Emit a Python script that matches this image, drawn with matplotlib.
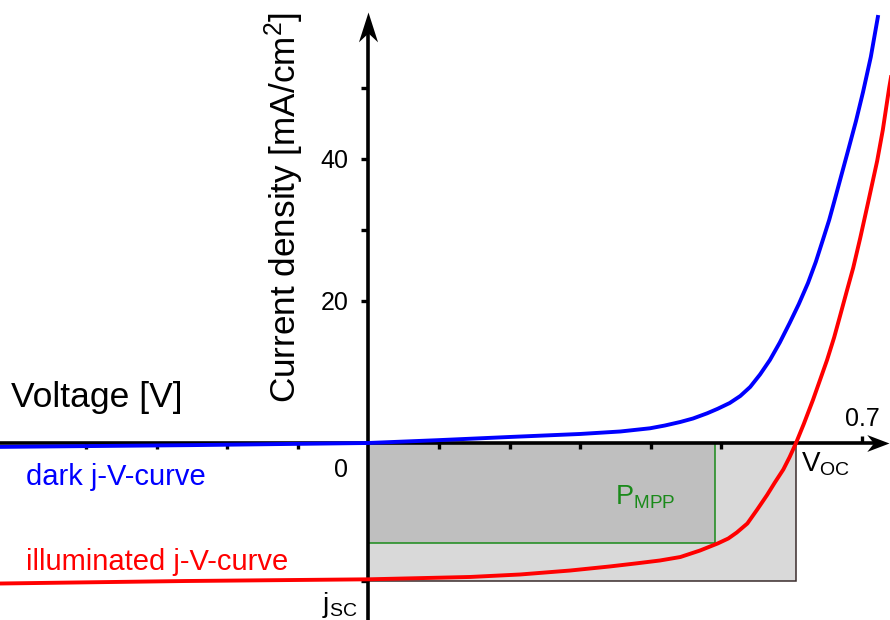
import matplotlib
matplotlib.use("Agg")
import matplotlib.pyplot as plt
from matplotlib.path import Path
from matplotlib.patches import Rectangle

plt.rcParams["font.family"] = ["Liberation Sans", "DejaVu Sans"]
plt.rcParams["mathtext.default"] = "regular"

# Dark j-V curve: voltage [V], current density [mA/cm²]
dark_voltage = [-0.522, -0.25, 0.0, 0.097, 0.201, 0.300, 0.357, 0.399, 0.420,
                0.442, 0.460, 0.480, 0.495, 0.512, 0.527, 0.541, 0.555, 0.569,
                0.583, 0.597, 0.610, 0.623, 0.634, 0.644, 0.653, 0.660, 0.670,
                0.680, 0.691, 0.701, 0.712, 0.722]
dark_current = [-0.55, -0.3, 0.0, 0.39, 0.85, 1.27, 1.62, 2.07, 2.46,
                2.96, 3.45, 4.18, 4.82, 5.63, 6.62, 7.89, 9.65, 11.69,
                14.15, 16.90, 19.58, 22.54, 25.49, 28.59, 31.41, 33.94, 37.61,
                41.27, 45.35, 49.44, 54.37, 60.0]

# Illuminated j-V curve
light_voltage = [-0.522, -0.260, 0.0, 0.144, 0.215, 0.286, 0.342, 0.381, 0.413,
                 0.442, 0.470, 0.495, 0.510, 0.522, 0.537, 0.551, 0.565, 0.576,
                 0.588, 0.597, 0.606, 0.617, 0.630, 0.640, 0.650, 0.660, 0.668,
                 0.678, 0.687, 0.697, 0.708, 0.721, 0.729, 0.738, 0.746]
light_current = [-19.79, -19.44, -19.20, -18.87, -18.52, -17.96, -17.39, -16.94, -16.55,
                 -16.06, -15.14, -14.15, -13.45, -12.61, -11.34, -9.37, -7.32, -5.56,
                 -3.73, -1.97, 0.0, 2.68, 6.06, 8.87, 11.69, 14.86, 17.75,
                 21.41, 24.65, 28.87, 33.80, 39.72, 44.08, 50.0, 54.65]

# Characteristic points
v_oc = 0.606
j_sc = -19.4
v_mpp = 0.491
j_mpp = -14.1

x_ticks = [-0.4, -0.3, -0.2, -0.1, 0.1, 0.2, 0.3, 0.4, 0.5]
x_tick_top = 0.7
y_ticks = [20, 30, 40, 50]
y_tick_labels = ["20", "", "40", ""]

v_min, v_max = -0.5223, 0.7392
j_min, j_max = -24.93, 62.39
v_arrow = 0.7378
j_arrow = 60.7

fig = plt.figure(figsize=(8.9, 6.2), dpi=100)
ax = fig.add_axes([0, 0, 1, 1])
ax.set_xlim(v_min, v_max)
ax.set_ylim(j_min, j_max)

# Axes crossing at the origin
for side in ("top", "right"):
    ax.spines[side].set_visible(False)
ax.spines["left"].set_position(("data", 0))
ax.spines["bottom"].set_position(("data", 0))
ax.spines["left"].set_bounds(j_min, j_arrow - 2.5)
ax.spines["bottom"].set_bounds(v_min, v_arrow - 0.02)
for side in ("left", "bottom"):
    ax.spines[side].set_linewidth(2.6)

ax.set_xticks(x_ticks)
ax.set_xticklabels([])
ax.set_xticks([x_tick_top], minor=True)
ax.tick_params(axis="x", which="major", direction="out", length=4.5, width=2.4)
ax.tick_params(axis="x", which="minor", direction="in", length=5, width=2.4,
               labelbottom=False)
ax.set_yticks(y_ticks + [j_sc])
ax.set_yticklabels(y_tick_labels + [""])
ax.tick_params(axis="y", direction="out", length=5.4, width=2.4,
               labelsize=18, pad=9)

# Arrow heads
up_head = Path([(0, 0), (-0.32, -1), (0, -0.7), (0.32, -1), (0, 0)],
               [Path.MOVETO, Path.LINETO, Path.LINETO, Path.LINETO, Path.CLOSEPOLY])
right_head = Path([(0, 0), (-1, 0.38), (-0.7, 0), (-1, -0.38), (0, 0)],
                  [Path.MOVETO, Path.LINETO, Path.LINETO, Path.LINETO, Path.CLOSEPOLY])
ax.plot([0], [j_arrow], marker=up_head, markersize=43, color="black",
        markeredgewidth=0, zorder=4, clip_on=False)
ax.plot([v_arrow], [0], marker=right_head, markersize=32, color="black",
        markeredgewidth=0, zorder=4, clip_on=False)

# Power rectangles
ax.add_patch(Rectangle((0, j_sc), v_oc, -j_sc, facecolor="#d9d9d9",
                       edgecolor="#3a2c2c", linewidth=1.1, zorder=1))
ax.add_patch(Rectangle((0, j_mpp), v_mpp, -j_mpp, facecolor="#bfbfbf",
                       edgecolor="#1a8a1a", linewidth=1.1, zorder=1.1))

# Curves
ax.plot(dark_voltage, dark_current, color="#0000ff", linewidth=2.8, zorder=3,
        solid_joinstyle="round")
ax.plot(light_voltage, light_current, color="#ff0000", linewidth=2.8, zorder=3,
        solid_joinstyle="round")

# Labels
ax.text(-0.506, 5.07, "Voltage [V]", fontsize=25.5, ha="left", va="baseline")
ax.text(-0.1035, 5.63, "Current density [mA/cm$^2$]", fontsize=25.3,
        rotation=90, rotation_mode="anchor", ha="left", va="baseline")
ax.text(-0.485, -5.92, "dark j-V-curve", fontsize=21, color="#0000ff",
        ha="left", va="baseline")
ax.text(-0.485, -17.9, "illuminated j-V-curve", fontsize=21, color="#ff0000",
        ha="left", va="baseline")
ax.text(-0.029, -3.8, "0", fontsize=18, ha="right", va="center")
ax.text(x_tick_top, 3.4, "0.7", fontsize=18, ha="center", va="center")
ax.text(v_oc + 0.007, -4.08, "V$_{OC}$", fontsize=20, ha="left", va="baseline")
ax.text(-0.016, -23.8, "j$_{SC}$", fontsize=20, ha="right", va="baseline")
ax.text(0.349, -8.73, "P$_{MPP}$", fontsize=19.5, color="#1a8a1a",
        ha="left", va="baseline")

fig.savefig("out.png", dpi=100)
